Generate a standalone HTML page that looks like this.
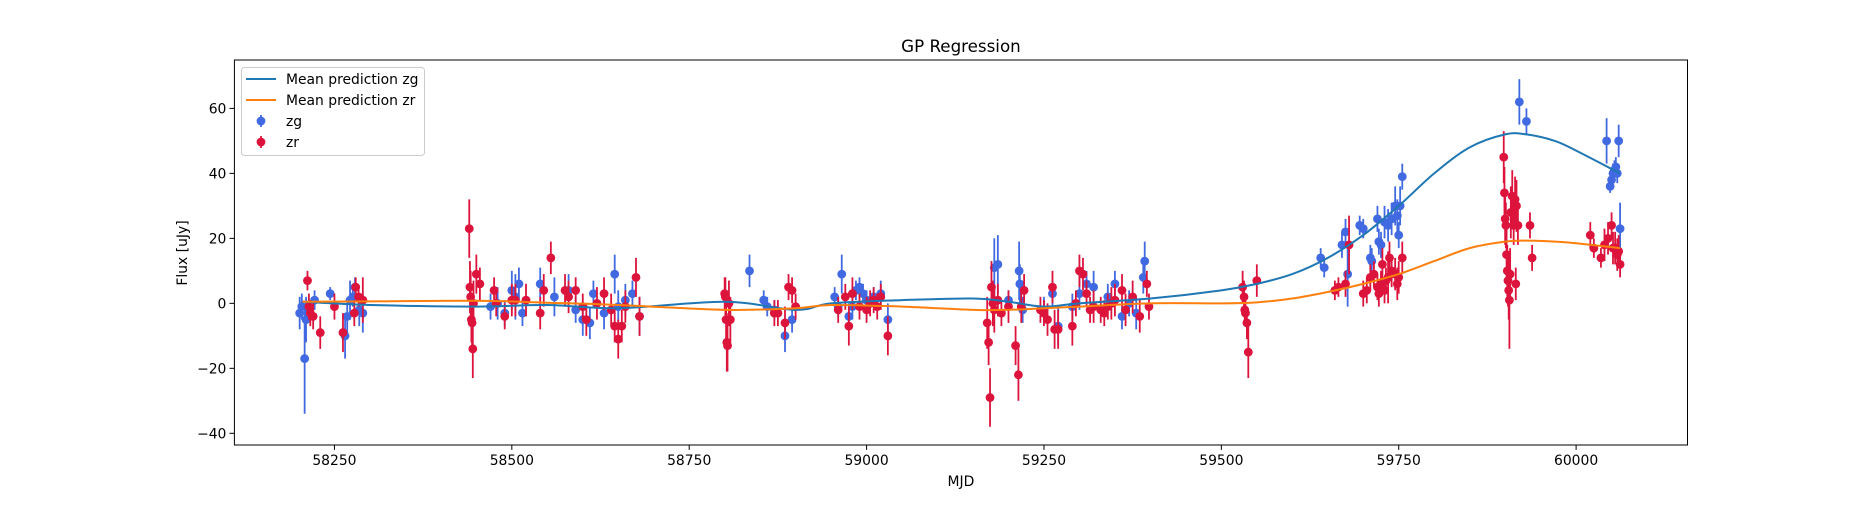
<!DOCTYPE html>
<html><head><meta charset="utf-8"><style>
body{margin:0;background:#fff;width:1875px;height:500px;overflow:hidden}
svg text{font-family:"DejaVu Sans","Liberation Sans",sans-serif;fill:#000}
</style></head><body>
<svg id="chart" width="1875" height="500" xmlns="http://www.w3.org/2000/svg"></svg>
<script>
const xTicks=[58250,58500,58750,59000,59250,59500,59750,60000];
const yTicks=[-40,-20,0,20,40,60];
const zgMjd=[58201,58204,58208,58210,58222,58244,58265,58268,58272,58276,58279,58285,58290,
58470,58480,58490,58500,58505,58510,58515,58540,58560,58580,58590,58600,58610,58615,58630,58645,58650,58660,58670,58680,
58835,58855,58860,58870,58885,58895,58955,58960,58965,58975,58980,58985,58990,58995,59000,59010,59020,59030,
59180,59185,59200,59215,59216,59220,59250,59262,59270,59290,59300,59310,59320,59340,59350,59360,59370,59380,59390,59392,
59640,59645,59670,59675,59678,59695,59700,59710,59712,59720,59722,59725,59730,59735,59740,59745,59748,59750,59752,59755,
59920,59930,60043,60060,60048,60050,60052,60054,60056,60058,60062];
const zgFlux=[-3,-1,-17,-5,1,3,-10,-4,1,2,5,-2,-3,
-1,0,-3,4,2,6,-3,6,2,4,-2,-5,-6,3,-3,9,-1,1,3,-4,
10,1,-1,-2,-10,-5,2,-1,9,-4,-1,4,5,3,1,2,3,-5,
11,12,1,10,6,-2,-2,3,-7,-1,3,6,5,2,6,-4,0,-3,8,13,
14,11,18,22,9,24,23,14,13,26,19,18,25,24,26,30,27,21,30,39,
62,56,50,50,36,38,40,41,42,40,23];
const zgErr=[5,4,17,7,3,2,7,5,6,3,3,5,6,
4,5,4,6,7,5,4,5,6,5,4,5,5,4,5,6,5,5,4,6,
5,3,3,3,5,4,3,3,6,4,4,3,3,3,3,3,4,5,
9,9,3,9,6,4,4,4,6,4,5,4,5,4,4,4,4,5,5,6,
3,3,4,4,10,3,3,4,4,4,4,4,5,5,5,6,5,4,6,4,
7,4,7,5,2,2,3,3,3,3,8];
const zrMjd=[58212,58214,58216,58220,58230,58250,58262,58278,58280,58284,58290,
58440,58441,58442,58443,58444,58445,58446,58450,58455,58475,58478,58490,58500,58505,58520,58540,58545,58555,58575,58580,58590,58600,58605,58620,58630,58640,58645,58650,58655,58660,58675,58680,
58800,58801,58802,58803,58804,58806,58808,58870,58875,58885,58890,58895,58900,58960,58970,58975,58980,58990,59000,59005,59010,59015,59020,59030,
59170,59172,59174,59176,59178,59180,59185,59190,59200,59210,59214,59218,59222,59245,59250,59255,59262,59265,59270,59290,59295,59300,59305,59310,59315,59320,59330,59335,59340,59345,59350,59360,59365,59375,59385,59395,59398,
59530,59532,59533,59534,59536,59538,59550,
59660,59665,59675,59680,59700,59705,59710,59715,59720,59722,59725,59727,59730,59732,59735,59737,59740,59745,59748,59750,59755,
59898,59899,59900,59901,59902,59903,59904,59905,59906,59907,59908,59910,59912,59914,59916,59918,59915,59935,59938,
60020,60025,60035,60040,60045,60050,60052,60055,60058,60060,60062];
const zrFlux=[7,-1,-3,-4,-9,-1,-9,-3,5,2,1,
23,5,2,-5,-6,-14,0,9,6,4,0,-4,1,1,1,-3,4,14,4,2,4,-1,-5,0,3,-2,-7,-11,-7,-1,8,-4,
3,2,-5,-12,-13,0,-5,-3,-3,-6,5,4,-1,-2,2,-7,3,-1,-2,0,1,-1,2,-10,
-6,-12,-29,5,0,-2,1,-3,-1,-13,-22,-1,4,-2,-3,-5,5,-8,-8,-7,0,10,9,3,-2,-1,-2,-3,-1,0,1,4,-2,2,-4,6,-1,
5,2,-2,-3,-6,-15,7,
4,5,6,18,3,4,8,9,5,3,6,12,4,7,8,14,10,9,6,8,14,
45,34,26,24,15,10,7,4,1,9,28,33,24,32,30,24,6,24,14,
21,17,14,18,20,24,17,17,15,16,12];
const zrErr=[3,4,4,4,5,4,6,4,3,3,7,
9,8,8,7,8,9,7,6,5,4,4,4,5,5,5,5,5,5,5,5,4,4,5,5,5,5,5,6,5,5,6,6,
5,6,8,9,8,7,7,4,4,5,4,4,4,4,4,6,5,4,4,4,4,4,4,6,
8,7,9,8,7,7,5,4,5,6,8,5,5,4,4,5,5,6,6,6,4,5,5,4,4,5,4,4,4,5,5,5,5,5,5,4,4,
5,5,5,4,5,8,5,
3,3,4,9,4,4,4,4,4,4,4,5,4,4,8,5,5,5,5,5,5,
8,8,8,7,8,8,8,9,15,8,8,8,6,7,8,6,5,4,4,
4,3,3,5,5,4,5,5,5,5,4];
const gpMjd=[58205,58300,58450,58550,58650,58800,58900,58950,59050,59150,59200,59250,59300,59400,59500,59550,59600,59650,59700,59750,59800,59850,59900,59930,59970,60000,60062];
const gpZg=[0.5,-0.5,-1,-0.5,-1.5,0.5,-2,0,1,1.5,0.5,-1,0,1.5,4,6,9,14,21,30,40,48,52,52,50,47,40];
const gpZr=[0.5,0.6,0.8,0.2,-0.5,-2,-1.5,-0.5,-1,-2,-2,-1.5,-1,0,0,0.3,1.5,3.5,6,9,13,17,19,19.3,19,18.5,17];

const L=234.4,R=1687.5,T=60,B=445;
const X0=58109,X1=60157,Y0=-43.6,Y1=74.9;
const sx=v=>L+(v-X0)/(X1-X0)*(R-L);
const sy=v=>B-(v-Y0)/(Y1-Y0)*(B-T);
const NS="http://www.w3.org/2000/svg";
const svg=document.getElementById('chart');
function mk(tag,attrs,parent){const e=document.createElementNS(NS,tag);for(const k in attrs)e.setAttribute(k,attrs[k]);(parent||svg).appendChild(e);return e;}

const title=mk('text',{x:(L+R)/2,y:52,'text-anchor':'middle','font-size':'16.7'});title.textContent='GP Regression';



const xg=mk('g',{});


xTicks.forEach(t=>{
  mk('line',{x1:sx(t),x2:sx(t),y1:B,y2:B+4.9,stroke:'#000','stroke-width':1},xg);
  const tx=mk('text',{x:sx(t),y:B+20,'text-anchor':'middle','font-size':'13.9'},xg);tx.textContent=t;
  
  
});
const xl=mk('text',{x:(L+R)/2,y:486,'text-anchor':'middle','font-size':'13.9'});xl.textContent='MJD';



const yg=mk('g',{});


yTicks.forEach(t=>{
  mk('line',{x1:L-4.9,x2:L,y1:sy(t),y2:sy(t),stroke:'#000','stroke-width':1},yg);
  const tx=mk('text',{x:L-8,y:sy(t)+5,'text-anchor':'end','font-size':'13.9'},yg);tx.textContent=(t<0?'\u2212'+(-t):t);
  
  
});
const yl=mk('text',{x:0,y:0,'text-anchor':'middle','font-size':'13.9',transform:'translate(187,253) rotate(-90)'});yl.textContent='Flux [uJy]';



function drawPts(m,f,e,color,name){
  const g=mk('g',{});
  
  
  m.forEach((v,i)=>{
    const p=mk('g',{},g);
    
    
    mk('line',{x1:sx(v),x2:sx(v),y1:sy(f[i]-e[i]),y2:sy(f[i]+e[i]),stroke:color,'stroke-width':1.8},p);
    mk('circle',{cx:sx(v),cy:sy(f[i]),r:4.4,fill:color},p);
  });
}
drawPts(zgMjd,zgFlux,zgErr,'#4169e1','zg');
drawPts(zrMjd,zrFlux,zrErr,'#dc143c','zr');

function curve(m,v){
  const P=m.map((x,i)=>[sx(x),sy(v[i])]);
  let d='M'+P[0][0]+','+P[0][1];
  for(let i=0;i<P.length-1;i++){
    const p0=P[Math.max(0,i-1)],p1=P[i],p2=P[i+1],p3=P[Math.min(P.length-1,i+2)];
    const c1=[p1[0]+(p2[0]-p0[0])/6,p1[1]+(p2[1]-p0[1])/6];
    const c2=[p2[0]-(p3[0]-p1[0])/6,p2[1]-(p3[1]-p1[1])/6];
    d+=` C${c1[0]},${c1[1]} ${c2[0]},${c2[1]} ${p2[0]},${p2[1]}`;
  }
  return d;
}
const lz=mk('path',{d:curve(gpMjd,gpZg),fill:'none',stroke:'#1f77b4','stroke-width':2});


const lr=mk('path',{d:curve(gpMjd,gpZr),fill:'none',stroke:'#ff7f0e','stroke-width':2});



const frame=mk('rect',{x:L,y:T,width:R-L,height:B-T,fill:'none',stroke:'#000','stroke-width':1});



const lg=mk('g',{});


mk('rect',{x:241.5,y:67.5,width:183,height:88,rx:3,fill:'#fff','fill-opacity':0.8,stroke:'#ccc','stroke-width':1},lg);
const items=[['Mean prediction zg','line','#1f77b4'],['Mean prediction zr','line','#ff7f0e'],['zg','pt','#4169e1'],['zr','pt','#dc143c']];
items.forEach((it,i)=>{
  const y=79+i*21;
  const e=mk('g',{},lg);
  
  
  if(it[1]==='line') mk('line',{x1:246,x2:276,y1:y,y2:y,stroke:it[2],'stroke-width':2},e);
  else{mk('line',{x1:261,x2:261,y1:y-6,y2:y+6,stroke:it[2],'stroke-width':1.8},e);mk('circle',{cx:261,cy:y,r:4.4,fill:it[2]},e);}
  const t=mk('text',{x:286,y:y+5,'font-size':'13.9'},e);t.textContent=it[0];
});
</script>
</body></html>
